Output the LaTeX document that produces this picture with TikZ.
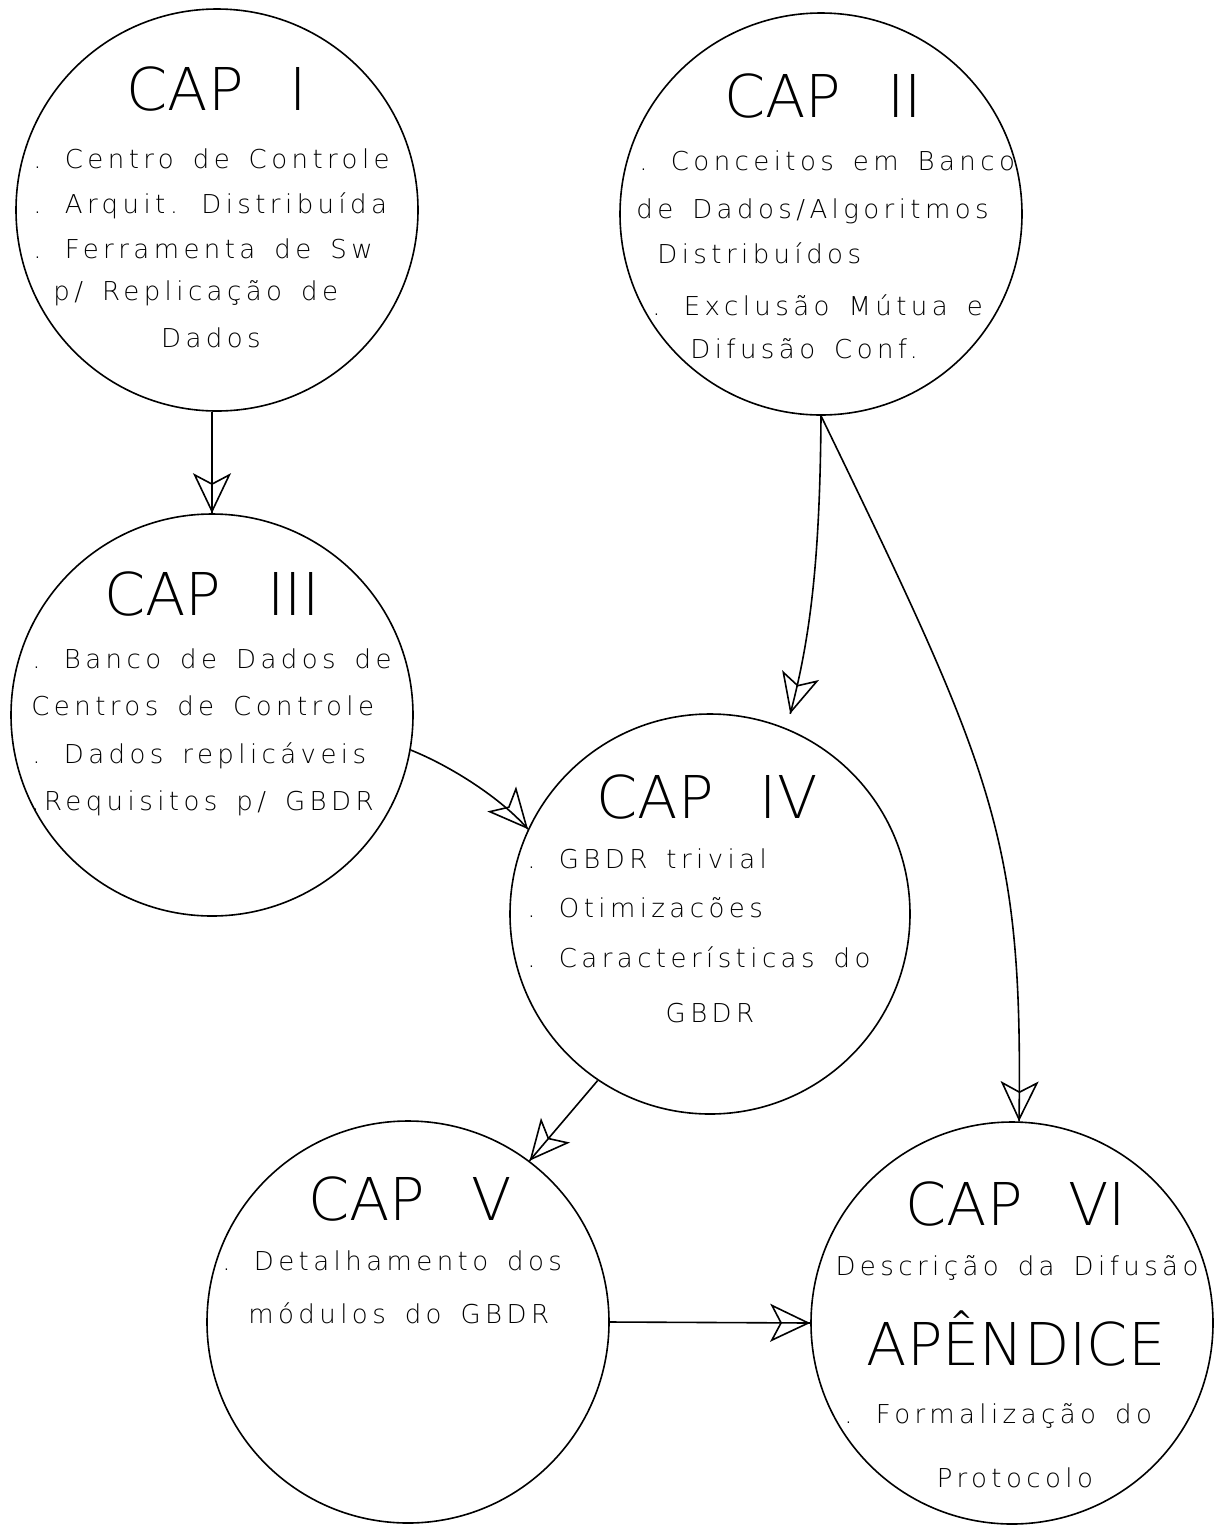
\documentclass[tikz,border=0pt]{standalone}
\usepackage{fontspec}
\newfontfamily\plotfont[LetterSpace=17]{DejaVu Sans ExtraLight}
\newfontfamily\titlefont{DejaVu Sans ExtraLight}
\newcommand\mybodyfont{\plotfont\fontsize{13}{15}\selectfont\spaceskip=9.5pt\relax}
\newcommand\mytitlefont{\titlefont\fontsize{29.5}{31}\selectfont}
\usetikzlibrary{arrows.meta,decorations.markings}
\begin{document}
\begin{tikzpicture}[x=0.5pt,y=-0.5pt,
  chap/.style={draw, circle, line width=0.8pt, minimum size=201pt, inner sep=0pt},
  captitle/.style={font=\mytitlefont, anchor=base, inner sep=0pt},
  bodytext/.style={font=\mybodyfont, anchor=base west, inner sep=0pt},
  bodyc/.style={bodytext, anchor=base},
  conn/.style={line width=0.8pt, postaction={decorate},
    decoration={markings, mark=at position 0.9999 with {\arrow[line width=0.8pt]{Stealth[open, length=20pt, width=19pt, inset=5pt]}}}}]
\path[fill=white] (0,0) rectangle (1225,1527);
% chapters
\node[chap] (c1) at (217,210) {};
\node[chap] (c2) at (821,214) {};
\node[chap] (c3) at (212,715) {};
\node[chap, minimum size=200pt] (c4) at (710,914) {};
\node[chap] (c5) at (408,1322) {};
\node[chap] (c6) at (1012,1323) {};
% titles
\node[captitle] (t1) at (217,110) {CAP\hspace{23pt}I};
\node[captitle] (t2) at (823,117) {CAP\hspace{23pt}II};
\node[captitle] (t3) at (212,615) {CAP\hspace{23pt}III};
\node[captitle] (t4) at (707,818) {CAP\hspace{23pt}IV};
\node[captitle] (t5) at (410,1220) {CAP\hspace{23pt}V};
\node[captitle] (t6) at (1016,1225) {CAP\hspace{23pt}VI};
\node[captitle] (ta) at (1016,1365) {APÊNDICE};
% CAP I
\node[bodytext] (a1) at (33,168) {. Centro de Controle};
\node[bodytext] (a2) at (33,213) {. Arquit. Distribuída};
\node[bodytext] (a3) at (33,258) {. Ferramenta de Sw};
\node[bodytext] (a4) at (53,300) {p/ Replicação de};
\node[bodyc] (a5) at (211,347) {Dados};
% CAP II
\node[bodytext] (b1) at (639,170) {. Conceitos em Banco};
\node[bodytext] (b2) at (636,218) {de Dados/Algoritmos};
\node[bodytext] (b3) at (657,263) {Distribuídos};
\node[bodytext] (b4) at (652,315) {. Exclusão Mútua e};
\node[bodytext] (b5) at (690,358) {Difusão Conf.};
% CAP III
\node[bodytext] (d1) at (32,668) {. Banco de Dados de};
\node[bodytext] (d2) at (31,715) {Centros de Controle};
\node[bodytext] (d3) at (32,763) {. Dados replicáveis};
\node[bodytext] (d4) at (31,810) {.Requisitos p/ GBDR};
% CAP IV
\node[bodytext] (e1) at (527,868) {. GBDR trivial};
\node[bodytext] (e2) at (527,917) {. Otimizacões};
\node[bodytext] (e3) at (527,967) {. Características do};
\node[bodyc] (e4) at (710,1022) {GBDR};
% CAP V
\node[bodytext] (f1) at (222,1270) {. Detalhamento dos};
\node[bodytext] (f2) at (248,1323) {módulos do GBDR};
% CAP VI
\node[bodyc] (g1) at (1017,1275) {Descrição da Difusão};
\node[bodytext] (g2) at (844,1423) {. Formalização do};
\node[bodyc] (g3) at (1015,1487) {Protocolo};
% connectors
\draw[conn] (c3.north |- c1.south) -- (c3.north);
\draw[conn] (c2.south) .. controls +(-1,145) and +(20,-75) .. ([shift={(2.5pt,7pt)}]c4.68);
\draw[conn] (c2.south) .. controls +(175,361) and +(4,-283) .. (c6.88);
\draw[conn] (c3.-10) .. controls +(40,16) and +(-27,-31) .. (c4.155);
\draw[conn] (c4.236) -- (c5.53);
\draw[conn] (c5.east) -- (c6.west);
\end{tikzpicture}
\end{document}
